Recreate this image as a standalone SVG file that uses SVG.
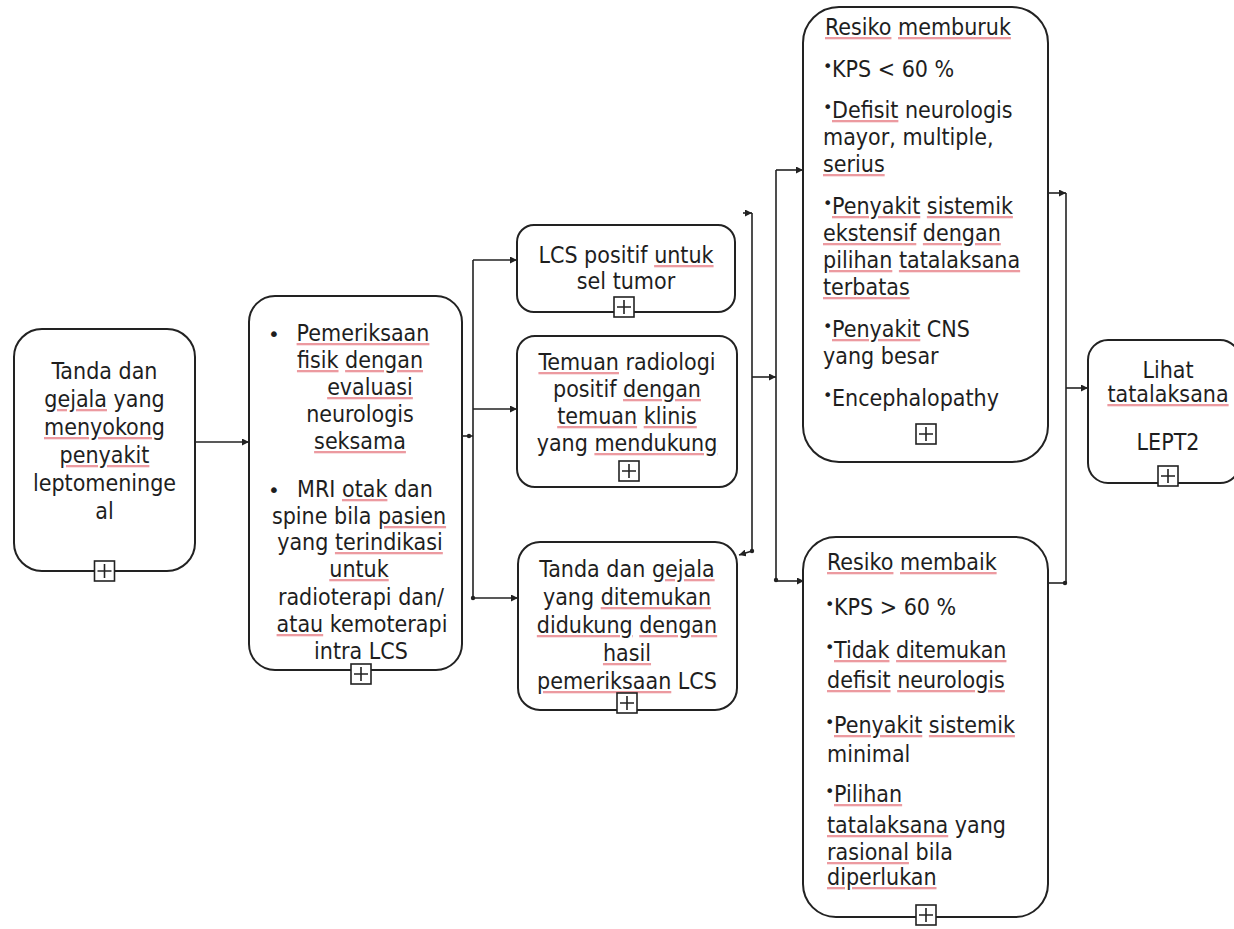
<svg xmlns="http://www.w3.org/2000/svg" width="1234" height="929" viewBox="0 0 1234 929">
  <defs>
    <style>
      .box { fill: #ffffff; stroke: #222222; stroke-width: 2; }
      .t { font-family: "DejaVu Sans Condensed", "DejaVu Sans", sans-serif; font-stretch: condensed; font-size: 23px; fill: #1e1e1e; }
      .c { text-anchor: middle; }
      .bl { font-family: "DejaVu Sans", sans-serif; font-size: 16px; fill: #1e1e1e; }
      .bb { font-family: "DejaVu Sans", sans-serif; font-size: 20px; fill: #1e1e1e; }
      /* spell-check style underline: the outer span carries the line colour, the inner span the ink */
      .sp { text-decoration: underline; fill: #ec9aa0; }
      .sp > tspan { fill: #1e1e1e; }
      .wire { fill: none; stroke: #222222; stroke-width: 1.6; }
      .dot { fill: #222222; }
      .ic rect { fill: #ffffff; stroke: #222222; stroke-width: 1.6; }
      .ic path { stroke: #222222; stroke-width: 1.6; fill: none; }
    </style>
    <marker id="arr" viewBox="0 0 8 8" refX="8" refY="4" markerWidth="7" markerHeight="7" markerUnits="userSpaceOnUse" orient="auto">
      <path d="M0,0 L8,4 L0,8 z" fill="#222222"/>
    </marker>
    <!-- expand icon: 20x20 square with a plus -->
    <g id="plus" class="ic">
      <rect x="-10" y="-10" width="20" height="20"/>
      <path d="M-7,0 H7 M0,-7 V7"/>
    </g>
  </defs>

  <rect width="1234" height="929" fill="#ffffff"/>

  <!-- connectors -->
  <g id="connectors">
    <path class="wire" d="M195,442 H249" marker-end="url(#arr)"/>
    <path class="wire" d="M462,436 H473"/>
    <path class="wire" d="M473,260 V598"/>
    <path class="wire" d="M473,260 H517" marker-end="url(#arr)"/>
    <path class="wire" d="M473,409 H517" marker-end="url(#arr)"/>
    <path class="wire" d="M473,598 H518" marker-end="url(#arr)"/>
    <circle class="dot" cx="469" cy="436" r="2.2"/>
    <circle class="dot" cx="473" cy="598" r="2.2"/>

    <path class="wire" d="M743,213 H752" marker-end="url(#arr)"/>
    <path class="wire" d="M752,213 V551"/>
    <path class="wire" d="M752,551 L739,555" marker-end="url(#arr)"/>
    <circle class="dot" cx="752" cy="551" r="2.2"/>
    <path class="wire" d="M752,377 H776" marker-end="url(#arr)"/>

    <path class="wire" d="M776,170 V581"/>
    <path class="wire" d="M776,170 H803" marker-end="url(#arr)"/>
    <path class="wire" d="M776,581 H804" marker-end="url(#arr)"/>
    <circle class="dot" cx="776" cy="580" r="2.2"/>

    <path class="wire" d="M1048,193 H1066" marker-end="url(#arr)"/>
    <path class="wire" d="M1066,193 V583"/>
    <path class="wire" d="M1046,583 H1066"/>
    <circle class="dot" cx="1065" cy="583" r="2.2"/>
    <path class="wire" d="M1066,388 H1088" marker-end="url(#arr)"/>
  </g>

  <!-- signs and symptoms -->
  <g id="n1">
    <rect class="box" x="14" y="329" width="181" height="242" rx="28"/>
    <text class="t c" x="104.5" y="379">Tanda dan</text>
    <text class="t c" x="104.5" y="407"><tspan class="sp"><tspan>gejala</tspan></tspan> yang</text>
    <text class="t c" x="104.5" y="435"><tspan class="sp"><tspan>menyokong</tspan></tspan></text>
    <text class="t c" x="104.5" y="463"><tspan class="sp"><tspan>penyakit</tspan></tspan></text>
    <text class="t c" x="104.5" y="491">leptomeninge</text>
    <text class="t c" x="104.5" y="519">al</text>
    <use href="#plus" x="104.5" y="571"/>
  </g>

  <!-- examination -->
  <g id="n2">
    <rect class="box" x="249" y="296" width="213" height="374" rx="26"/>
    <text class="bb" x="268" y="341">•</text>
    <text class="t c" x="363" y="341"><tspan class="sp"><tspan>Pemeriksaan</tspan></tspan></text>
    <text class="t c" x="360" y="368"><tspan class="sp"><tspan>fisik</tspan></tspan> <tspan class="sp"><tspan>dengan</tspan></tspan></text>
    <text class="t c" x="370" y="395"><tspan class="sp"><tspan>evaluasi</tspan></tspan></text>
    <text class="t c" x="360" y="422">neurologis</text>
    <text class="t c" x="360" y="449"><tspan class="sp"><tspan>seksama</tspan></tspan></text>
    <text class="bb" x="268" y="497">•</text>
    <text class="t c" x="365" y="497">MRI <tspan class="sp"><tspan>otak</tspan></tspan> dan</text>
    <text class="t c" x="359" y="524">spine bila <tspan class="sp"><tspan>pasien</tspan></tspan></text>
    <text class="t c" x="360" y="550">yang <tspan class="sp"><tspan>terindikasi</tspan></tspan></text>
    <text class="t c" x="359" y="577"><tspan class="sp"><tspan>untuk</tspan></tspan></text>
    <text class="t c" x="361" y="605">radioterapi dan/</text>
    <text class="t c" x="362" y="632"><tspan class="sp"><tspan>atau</tspan></tspan> kemoterapi</text>
    <text class="t c" x="361" y="659">intra LCS</text>
    <use href="#plus" x="361" y="674"/>
  </g>

  <g id="n3">
    <rect class="box" x="517" y="225" width="218" height="87" rx="17"/>
    <text class="t c" x="626" y="263">LCS positif <tspan class="sp"><tspan>untuk</tspan></tspan></text>
    <text class="t c" x="626" y="289">sel tumor</text>
    <use href="#plus" x="624" y="307"/>
  </g>

  <g id="n4">
    <rect class="box" x="517" y="336" width="220" height="151" rx="18"/>
    <text class="t c" x="627" y="370"><tspan class="sp"><tspan>Temuan</tspan></tspan> radiologi</text>
    <text class="t c" x="627" y="397">positif <tspan class="sp"><tspan>dengan</tspan></tspan></text>
    <text class="t c" x="627" y="424"><tspan class="sp"><tspan>temuan</tspan></tspan> <tspan class="sp"><tspan>klinis</tspan></tspan></text>
    <text class="t c" x="627" y="451">yang <tspan class="sp"><tspan>mendukung</tspan></tspan></text>
    <use href="#plus" x="629" y="471"/>
  </g>

  <g id="n5">
    <rect class="box" x="518" y="542" width="219" height="168" rx="22"/>
    <text class="t c" x="627" y="577">Tanda dan <tspan class="sp"><tspan>gejala</tspan></tspan></text>
    <text class="t c" x="627" y="605">yang <tspan class="sp"><tspan>ditemukan</tspan></tspan></text>
    <text class="t c" x="627" y="633"><tspan class="sp"><tspan>didukung</tspan></tspan> <tspan class="sp"><tspan>dengan</tspan></tspan></text>
    <text class="t c" x="627" y="661"><tspan class="sp"><tspan>hasil</tspan></tspan></text>
    <text class="t c" x="627" y="689"><tspan class="sp"><tspan>pemeriksaan</tspan></tspan> LCS</text>
    <use href="#plus" x="627" y="703"/>
  </g>

  <!-- poor-risk criteria -->
  <g id="n6">
    <rect class="box" x="803" y="7" width="245" height="455" rx="36"/>
    <text class="t" x="825" y="35"><tspan class="sp"><tspan>Resiko</tspan></tspan> <tspan class="sp"><tspan>memburuk</tspan></tspan></text>
    <text class="bl" x="823" y="72">•</text>
    <text class="t" x="832" y="77">KPS &lt; 60 %</text>
    <text class="bl" x="823" y="113">•</text>
    <text class="t" x="832" y="118"><tspan class="sp"><tspan>Defisit</tspan></tspan> neurologis</text>
    <text class="t" x="823" y="145">mayor, multiple,</text>
    <text class="t" x="823" y="172"><tspan class="sp"><tspan>serius</tspan></tspan></text>
    <text class="bl" x="823" y="209">•</text>
    <text class="t" x="832" y="214"><tspan class="sp"><tspan>Penyakit</tspan></tspan> <tspan class="sp"><tspan>sistemik</tspan></tspan></text>
    <text class="t" x="823" y="241"><tspan class="sp"><tspan>ekstensif</tspan></tspan> <tspan class="sp"><tspan>dengan</tspan></tspan></text>
    <text class="t" x="823" y="268"><tspan class="sp"><tspan>pilihan</tspan></tspan> <tspan class="sp"><tspan>tatalaksana</tspan></tspan></text>
    <text class="t" x="823" y="295"><tspan class="sp"><tspan>terbatas</tspan></tspan></text>
    <text class="bl" x="823" y="332">•</text>
    <text class="t" x="832" y="337"><tspan class="sp"><tspan>Penyakit</tspan></tspan> CNS</text>
    <text class="t" x="823" y="364">yang besar</text>
    <text class="bl" x="823" y="401">•</text>
    <text class="t" x="832" y="406">Encephalopathy</text>
    <use href="#plus" x="926" y="434"/>
  </g>

  <!-- good-risk criteria -->
  <g id="n7">
    <rect class="box" x="803" y="537" width="245" height="380" rx="33"/>
    <text class="t" x="827" y="570"><tspan class="sp"><tspan>Resiko</tspan></tspan> <tspan class="sp"><tspan>membaik</tspan></tspan></text>
    <text class="bl" x="825" y="610">•</text>
    <text class="t" x="834" y="615">KPS &gt; 60 %</text>
    <text class="bl" x="825" y="653">•</text>
    <text class="t" x="834" y="658"><tspan class="sp"><tspan>Tidak</tspan></tspan> <tspan class="sp"><tspan>ditemukan</tspan></tspan></text>
    <text class="t" x="827" y="688"><tspan class="sp"><tspan>defisit</tspan></tspan> <tspan class="sp"><tspan>neurologis</tspan></tspan></text>
    <text class="bl" x="825" y="728">•</text>
    <text class="t" x="834" y="733"><tspan class="sp"><tspan>Penyakit</tspan></tspan> <tspan class="sp"><tspan>sistemik</tspan></tspan></text>
    <text class="t" x="827" y="762">minimal</text>
    <text class="bl" x="825" y="797">•</text>
    <text class="t" x="834" y="802"><tspan class="sp"><tspan>Pilihan</tspan></tspan></text>
    <text class="t" x="827" y="833"><tspan class="sp"><tspan>tatalaksana</tspan></tspan> yang</text>
    <text class="t" x="827" y="860"><tspan class="sp"><tspan>rasional</tspan></tspan> bila</text>
    <text class="t" x="827" y="885"><tspan class="sp"><tspan>diperlukan</tspan></tspan></text>
    <use href="#plus" x="926" y="915"/>
  </g>

  <g id="n8">
    <rect class="box" x="1088" y="340" width="152" height="143" rx="20"/>
    <text class="t c" x="1168" y="378">Lihat</text>
    <text class="t c" x="1168" y="402"><tspan class="sp"><tspan>tatalaksana</tspan></tspan></text>
    <text class="t c" x="1168" y="450">LEPT2</text>
    <use href="#plus" x="1168" y="476"/>
  </g>
</svg>
